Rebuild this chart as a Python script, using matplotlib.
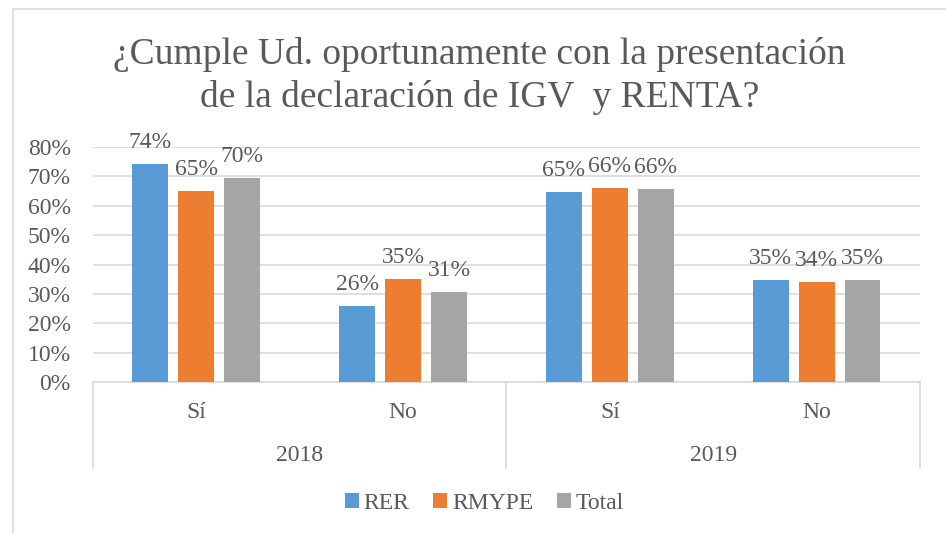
import numpy as np
import matplotlib.pyplot as plt
from matplotlib.lines import Line2D
from matplotlib.transforms import blended_transform_factory

# datos
years = ['2018', '2019']
answers = ['Sí', 'No', 'Sí', 'No']
rer = [0.742, 0.26, 0.648, 0.348]
rmype = [0.65, 0.35, 0.66, 0.34]
total = [0.695, 0.306, 0.656, 0.346]
series_names = ['RER', 'RMYPE', 'Total']
colors = ['#5B9BD5', '#ED7D31', '#A5A5A5']
text_color = '#595959'
grid_color = '#D9D9D9'

plt.rcParams['font.family'] = ['Liberation Serif', 'DejaVu Serif']
fs = 17

fig = plt.figure(figsize=(9.46, 5.33), dpi=100)
ax = fig.add_axes([0.0983, 0.2833, 0.8742, 0.4409])

# borde superior e izquierdo del gráfico
fig.lines.append(Line2D([12.5 / 946, 12.5 / 946, 1.0], [0.0, 1 - 8.5 / 533, 1 - 8.5 / 533],
                        transform=fig.transFigure, color='#D9D9D9', linewidth=1.2))

x = np.arange(len(answers))
width = 0.174
step = 0.222
for k, (vals, name, c) in enumerate(zip([rer, rmype, total], series_names, colors)):
    bars = ax.bar(x + (k - 1) * step, vals, width, color=c, label=name, zorder=3)
    for b, v in zip(bars, vals):
        ax.annotate(f'{v:.0%}', (b.get_x() + b.get_width() / 2, v), xytext=(0, 8),
                    textcoords='offset points', ha='center', va='bottom',
                    fontsize=fs, color=text_color, clip_on=False)

ax.set_xlim(-0.5, 3.5)
ax.set_ylim(0, 0.8)
ax.set_yticks(np.arange(0, 0.81, 0.1))
ax.set_yticklabels([f'{int(round(t * 100))}%' for t in np.arange(0, 0.81, 0.1)])
ax.tick_params(axis='y', length=0, pad=16, labelsize=fs, labelcolor=text_color)
ax.set_xticks([])
ax.grid(axis='y', color=grid_color, linewidth=1.2, zorder=0)
for s in ['top', 'right', 'left']:
    ax.spines[s].set_visible(False)
ax.spines['bottom'].set_color(grid_color)
ax.spines['bottom'].set_linewidth(1.2)

# eje de categorías con dos niveles
tr = blended_transform_factory(ax.transData, ax.transAxes)
for xv in [-0.5, 1.5, 3.5]:
    ax.plot([xv, xv], [0, -0.366], transform=tr, color=grid_color, lw=1.2, clip_on=False)
for i, a in enumerate(answers):
    ax.text(i, -0.128, a, transform=tr, ha='center', va='center', fontsize=fs, color=text_color)
for j, y in enumerate(years):
    ax.text(2 * j + 0.5, -0.311, y, transform=tr, ha='center', va='center', fontsize=fs, color=text_color)

fig.text(0.507, 0.857, '¿Cumple Ud. oportunamente con la presentación\nde la declaración de IGV  y RENTA?',
         ha='center', va='center', fontsize=27, color=text_color, linespacing=1.3)

leg = fig.legend(loc='center', bbox_to_anchor=(0.512, 0.055), ncol=3, frameon=False,
                 fontsize=fs, handlelength=0.6, handleheight=0.6, handletextpad=0.2,
                 columnspacing=1.0, labelcolor=text_color)

fig.savefig('out.png', dpi=100)
